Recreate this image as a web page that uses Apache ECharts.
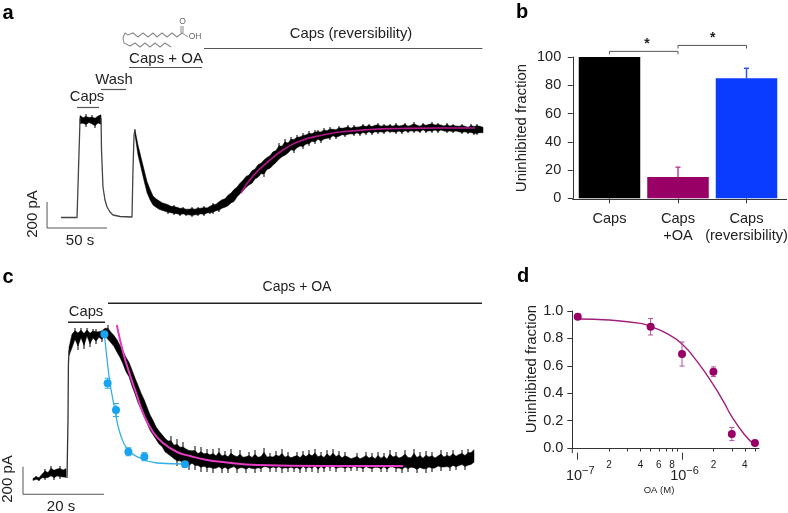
<!DOCTYPE html>
<html><head><meta charset="utf-8">
<style>html,body{margin:0;padding:0;background:#fff}#c{width:788px;height:513px}</style>
<script src="https://cdn.jsdelivr.net/npm/echarts@6/dist/echarts.min.js"></script>
</head><body><div id="c"></div>
<script>
// ---- Panel a: current trace (time in s, current in pA) ----
const aThinT=[0.8,14.2,14.6,15.4,16.3,16.7];
const aThinV=[-4,-4,0,376,656,792];
const aFallT=[34.2,34.6,35.8,37.5,39.2,41.7,44.2,50,60,60.8,61.7,62.5];
const aFallV=[792,536,240,136,80,40,16,4,0,376,656,704];
const aPlateauStart=16.67, aStep=2.5;
const aPlateauHi=[832,808,824,808,816,808,824,840];
const aPlateauLo=[728,736,720,744,728,712,736,720];
const aBandStart=62.5;
const aBandHi=[704,592,496,400,304,240,184,160,144,128,120,112,96,96,88,80,80,72,72,80,72,80,80,88,80,96,112,112,136,152,160,192,208,240,256,288,312,344,352,392,400,440,448,480,496,512,544,552,592,584,624,608,640,640,656,656,672,672,688,680,696,696,696,712,704,720,712,712,728,720,728,736,720,736,728,736,744,736,744,736,744,752,736,744,736,744,736,752,736,744,752,736,744,760,744,736,752,744,752,760,744,752,744,736,752,736,744,736,736,744,736,728,744,736,744,736,728];
const aBandLo=[648,480,376,272,176,120,80,64,48,40,32,24,24,16,16,8,16,8,8,0,8,8,16,8,24,24,24,40,40,56,64,72,96,104,144,168,192,216,240,248,288,296,328,320,360,368,392,416,440,464,472,496,520,512,536,552,544,568,568,592,584,608,592,608,616,616,640,624,632,648,640,648,656,648,664,648,664,656,672,656,672,664,672,664,680,672,672,664,680,664,680,672,680,672,680,672,688,672,680,672,688,672,688,680,672,680,672,680,672,664,672,664,664,656,656,664,664];
const aFitT=[150.8,160.8,175,185.8,200,219.2,233.3,258.3,283.3,316.7,345.8];
const aFitV=[192,328,456,536,608,656,680,700,708,712,712];
// stimulus bars: [tStart, tEnd, level]
const aStimBars=[[14.2,32.5,876],[34.2,55,1020],[57.5,118.3,1196],[120,352,1348]];
const aScaleBars=[[-10.8,-88,-10.8,120],[-10.8,-88,39.2,-88]];

// ---- Panel b ----
const bCategories=['Caps','Caps\n+OA','Caps\n(reversibility)'];
const bValues=[100,15,85];
const bErrors=[0,7,7];
const bColors=['#000000','#990066','#0a3cff'];
const bErrColors=['#000000','#c0409a','#2a55f0'];
const bBrackets=[[0,1,104,102],[1,2,108.2,106]];

// ---- Panel c ----
const cThinT=[9.25,9.5,9.6,9.75];
const cThinV=[16,480,920,1040];
const cPreStart=0.75, cStep=0.75;
const cPreHi=[16,32,24,56,88,72,112,96,104,112,96,112];
const cPreLo=[-8,0,-8,8,0,8,16,0,16,8,8,0];
const cBandStart=9.75;
const cBandHi=[1080,1200,1216,1208,1216,1200,1216,1200,1208,1208,1200,1216,1232,1240,1208,1184,1152,1104,1064,1016,976,920,856,800,736,688,624,560,512,456,424,392,368,344,352,312,328,296,304,280,272,264,272,240,264,240,248,232,248,224,256,224,232,216,248,224,216,240,208,216,224,208,240,208,216,256,208,216,208,232,216,248,208,224,200,216,224,208,232,216,240,224,248,216,224,208,240,216,248,216,232,200,224,208,192,200,216,192,208,224,200,216,192,224,200,216,192,240,208,224,200,216,240,208,200,248,208,224,200,232,208,224,200,216,240,208,224,216,240,216,232,240,224,248,248,272];
const cBandLo=[976,1024,1104,1040,1120,1048,1136,1064,1120,1088,1128,1104,1136,1096,1072,1040,992,952,896,832,792,712,648,576,528,464,416,360,328,296,256,240,192,176,152,136,112,120,96,112,80,104,80,88,64,80,64,72,56,64,72,56,72,56,64,80,56,64,72,56,72,64,56,72,64,72,80,64,80,64,80,56,72,64,80,64,72,56,80,64,72,64,80,56,80,64,80,72,80,64,72,80,64,80,72,88,72,80,64,80,72,64,80,72,64,80,64,72,80,64,72,56,72,64,80,64,56,72,64,56,80,64,72,88,72,80,80,72,88,80,88,96,80,88,96,112];
const cFitT=[21.7,23.25,25,26.7,28.25,30.75,33.25,36.75,40,44.25,48.25,56.75,73.25,93.25];
const cFitV=[1240,1024,840,680,536,384,296,224,192,160,144,120,112,112];
const cBlueT=[18.6,19.4,21.5,24.6,28.6,38.75];
const cBlueV=[1166,774,560,226,186,126];
const cBlueE=[0,40,52,32,32,0];
const cBlueFitT=[18.6,19.2,20,21.25,22.5,24.5,27.5,31.75,38.75];
const cBlueFitV=[1166,984,776,560,376,240,176,136,128];
const cStimBars=[[9.5,18.75,1262],[19.5,113,1414]];
const cScaleBars=[[-1.75,-114,-1.75,106],[-1.75,-114,18.5,-114]];

// ---- Panel d ----
const dConc=[1e-7,5e-7,1e-6,2e-6,3e-6,5e-6];
const dValues=[0.958,0.885,0.686,0.557,0.102,0.036];
const dErrors=[0,0.06,0.088,0.035,0.048,0.015];
const dFitConc=[1e-7,2e-7,4e-7,5e-7,7.1e-7,1e-6,1.4e-6,2e-6,2.5e-6,3e-6,4e-6,5e-6];
const dFitV=[0.942,0.934,0.91,0.887,0.837,0.759,0.63,0.46,0.338,0.229,0.095,0.02];
const dMinorTicks=[2e-7,3e-7,4e-7,5e-7,6e-7,7e-7,8e-7,9e-7,2e-6,3e-6,4e-6,5e-6];
const dMinorLabelled=[2e-7,4e-7,6e-7,8e-7,2e-6,4e-6];
const dMajorTicks=[1e-7,1e-6];

const zip=(a,b)=>a.map((v,i)=>[v,b[i]]);
const FONT='"Liberation Sans",Arial,sans-serif', INK='#222';

// Noisy record: a solid core, with a hairline out to the read extreme wherever that extreme is a local peak.
function band(xi,yi,start,step,hi,lo,coreFrac){
  return {type:'custom',xAxisIndex:xi,yAxisIndex:yi,z:2,clip:false,
    data:hi.map((h,i)=>[start+i*step,h,lo[i]]),
    renderItem(p,api){
      if(p.dataIndex!==0) return null;
      const up=[],down=[],kids=[];
      const st={stroke:'#000',lineWidth:1};
      hi.forEach((h,i)=>{
        const x=start+i*step,m=(h+lo[i])/2,l=lo[i];
        up.push(api.coord([x,m+(h-m)*coreFrac]));
        down.unshift(api.coord([x,m+(l-m)*coreFrac]));
        const mid=api.coord([x,m]);
        if(i>0&&i<hi.length-1&&h>=hi[i-1]&&h>=hi[i+1]){
          const a=api.coord([x,h]);
          kids.push({type:'line',shape:{x1:a[0],y1:a[1],x2:mid[0],y2:mid[1]},style:st});
        }
        if(i>0&&i<hi.length-1&&l<=lo[i-1]&&l<=lo[i+1]){
          const b=api.coord([x,l]);
          kids.push({type:'line',shape:{x1:b[0],y1:b[1],x2:mid[0],y2:mid[1]},style:st});
        }
      });
      kids.push({type:'polygon',shape:{points:up.concat(down)},style:{fill:'#000',stroke:'#000',lineWidth:0.5}});
      return {type:'group',children:kids};
    }};
}
function thin(xi,yi,t,v,color,w,smooth,z){
  return {type:'line',xAxisIndex:xi,yAxisIndex:yi,data:zip(t,v),symbol:'none',smooth:!!smooth,z:z||3,clip:false,
    lineStyle:{color,width:w}};
}
function segs(xi,yi,rows,color,w){
  return {type:'custom',xAxisIndex:xi,yAxisIndex:yi,z:2,clip:false,data:rows,
    renderItem(p,api){
      const a=api.coord([api.value(0),api.value(1)]),b=api.coord([api.value(2),api.value(3)]);
      return {type:'line',shape:{x1:a[0],y1:a[1],x2:b[0],y2:b[1]},style:{stroke:color,lineWidth:w}};
    }};
}
function errBars(xi,yi,xs,ys,es,color,cap,w,upOnly,z){
  return {type:'custom',xAxisIndex:xi,yAxisIndex:yi,z:z||4,clip:false,
    data:xs.map((x,i)=>[x,ys[i],es[i]]).filter(r=>r[2]>0),
    renderItem(p,api){
      const x=api.value(0),y=api.value(1),e=api.value(2);
      const t=api.coord([x,y+e]),b=api.coord([x,upOnly?y:y-e]);
      const st={stroke:typeof color==='function'?color(p.dataIndex):color,lineWidth:w};
      const kids=[{type:'line',shape:{x1:t[0],y1:t[1],x2:b[0],y2:b[1]},style:st},
        {type:'line',shape:{x1:t[0]-cap,y1:t[1],x2:t[0]+cap,y2:t[1]},style:st}];
      if(!upOnly) kids.push({type:'line',shape:{x1:b[0]-cap,y1:b[1],x2:b[0]+cap,y2:b[1]},style:st});
      return {type:'group',children:kids};
    }};
}
function txt(text,x,y,size,opt){
  opt=opt||{};
  return {type:'text',x,y,rotation:opt.rot||0,z:20,
    style:{text,x:0,y:0,align:'center',verticalAlign:'middle',fill:opt.fill||INK,
      font:(opt.bold?'bold ':'')+size+'px '+FONT}};
}
function gline(x1,y1,x2,y2,color,w){
  return {type:'line',z:20,shape:{x1,y1,x2,y2},style:{stroke:color||'#333',lineWidth:w||1}};
}
const GREY='#8c8c8c';
const molecule=[[182,33],[177,37],[172,33],[167,37],[162,33],[157,37],[153,33],[148,37],[143,33],[138,37],[133,33],[128,35],[125,33],[123,38],[124,43],[130,46],[135,43],[140,47],[145,43],[150,47],[155,43],[160,47],[165,43],[171,47]];

const option={
  backgroundColor:'#fff',animation:false,
  textStyle:{fontFamily:FONT},
  grid:[
    {left:36,top:40,width:447,height:202,outerBoundsMode:'none'},
    {left:575.25,top:57,width:205.5,height:141.3,outerBoundsMode:'none'},
    {left:20,top:295,width:463,height:205,outerBoundsMode:'none'},
    {left:572.3,top:311,width:186.7,height:137,outerBoundsMode:'none'}
  ],
  xAxis:[
    {gridIndex:0,type:'value',min:-20,max:352.5,show:false},
    {gridIndex:1,type:'category',data:bCategories,offset:1,
      axisLine:{show:false},axisTick:{show:true,alignWithLabel:true,length:5,lineStyle:{color:'#333'}},
      axisLabel:{color:INK,fontSize:14.6,lineHeight:17,margin:11,interval:0,fontFamily:FONT}},
    {gridIndex:2,type:'value',min:-2.5,max:113.25,show:false},
    {gridIndex:3,type:'log',logBase:10,min:8.87e-8,max:5.47e-6,offset:4.7,splitLine:{show:false},
      axisLine:{lineStyle:{color:'#333'}},
      axisTick:{length:3.5,customValues:dMinorTicks,lineStyle:{color:'#333'}},
      minorTick:{show:false},
      axisLabel:{customValues:dMinorLabelled,color:INK,fontSize:10,margin:8,fontFamily:FONT,
        formatter:v=>String(Math.round(v/Math.pow(10,Math.floor(Math.log10(v)+1e-9))))}},
    {gridIndex:3,type:'log',logBase:10,min:8.87e-8,max:5.47e-6,offset:4.7,splitLine:{show:false},position:'bottom',
      axisLine:{show:false},
      axisTick:{length:7,customValues:dMajorTicks,lineStyle:{color:'#333'}},
      minorTick:{show:false},
      axisLabel:{customValues:dMajorTicks,color:INK,margin:13,fontFamily:FONT,
        formatter:v=>'{b|10}{s|'+(v<5e-7?'\u22127':'\u22126')+'}',
        rich:{b:{fontSize:14.5,color:INK,fontFamily:FONT,padding:[0,0,0,5]},s:{fontSize:11,color:INK,fontFamily:FONT,padding:[0,0,9,0]}}}}
  ],
  yAxis:[
    {gridIndex:0,type:'value',min:-200,max:1416,show:false},
    {gridIndex:1,type:'value',min:0,max:100,interval:20,offset:2.5,splitLine:{show:false},
      axisLine:{show:true,lineStyle:{color:'#333'}},axisTick:{show:true,length:5,lineStyle:{color:'#333'}},
      axisLabel:{color:INK,fontSize:14.5,margin:11.5,fontFamily:FONT}},
    {gridIndex:2,type:'value',min:-160,max:1480,show:false},
    {gridIndex:3,type:'value',min:0,max:1,interval:0.2,splitLine:{show:false},
      axisLine:{show:true,lineStyle:{color:'#333'}},axisTick:{show:true,length:5,lineStyle:{color:'#333'}},
      axisLabel:{color:INK,fontSize:14.5,margin:9,fontFamily:FONT,formatter:v=>v.toFixed(1)}}
  ],
  series:[
    // a
    thin(0,0,aThinT,aThinV,'#444',1.3),
    thin(0,0,aFallT,aFallV,'#444',1.3),
    band(0,0,aPlateauStart,aStep,aPlateauHi,aPlateauLo,0.62),
    band(0,0,aBandStart,aStep,aBandHi,aBandLo,0.7),
    thin(0,0,aFitT,aFitV,'#b0168a',1.7,true,5),
    segs(0,0,aStimBars.map(r=>[r[0],r[2],r[1],r[2]]),'#555',1.2),
    segs(0,0,aScaleBars,'#555',1),
    // b
    {type:'bar',xAxisIndex:1,yAxisIndex:1,barWidth:61.5,z:3,
      data:bValues.map((v,i)=>({value:v,itemStyle:{color:bColors[i]}}))},
    errBars(1,1,[0,1,2],bValues,bErrors,i=>bErrColors[i+1],2.5,1.5,true,2),
    {type:'custom',xAxisIndex:1,yAxisIndex:1,z:4,clip:false,data:bBrackets,
      renderItem(p,api){
        const a=api.coord([api.value(0),api.value(2)]),b=api.coord([api.value(1),api.value(2)]);
        const leg=api.coord([api.value(0),api.value(3)])[1];
        return {type:'polyline',shape:{points:[[a[0],leg],a,b,[b[0],leg]]},style:{stroke:'#555',lineWidth:1,fill:null}};
      }},
    // c
    band(2,2,cPreStart,cStep,cPreHi,cPreLo,0.62),
    thin(2,2,cThinT,cThinV,'#333',1.3),
    band(2,2,cBandStart,cStep,cBandHi,cBandLo,0.62),
    thin(2,2,cFitT,cFitV,'#e63cc4',2,true,5),
    thin(2,2,cBlueFitT,cBlueFitV,'#35aee8',1.3,true,6),
    errBars(2,2,cBlueT,cBlueV,cBlueE,'#35aee8',3,1,false,6),
    {type:'scatter',xAxisIndex:2,yAxisIndex:2,data:zip(cBlueT,cBlueV),symbolSize:8,z:7,clip:false,
      itemStyle:{color:'#18a4f0',opacity:1}},
    segs(2,2,cStimBars.map(r=>[r[0],r[2],r[1],r[2]]),'#222',1.6),
    segs(2,2,cScaleBars,'#555',1),
    // d
    thin(3,3,dFitConc,dFitV,'#a01f7c',1.4,true,4),
    errBars(3,3,dConc,dValues,dErrors,'#b5509a',2.5,1,false,5),
    {type:'scatter',xAxisIndex:3,yAxisIndex:3,data:zip(dConc,dValues),symbolSize:8,z:6,clip:false,
      itemStyle:{color:'#990066',opacity:1}}
  ],
  graphic:{elements:[
    txt('a',8,13,20,{bold:true,fill:'#000'}),
    txt('b',522,12,20,{bold:true,fill:'#000'}),
    txt('c',8,277,20,{bold:true,fill:'#000'}),
    txt('d',523,276,20,{bold:true,fill:'#000'}),
    txt('Caps',87,97,14.8),
    txt('Wash',114,80,14.8),
    txt('Caps + OA',166,59,15),
    txt('Caps (reversibility)',351,34,14.8),
    txt('50 s',80,241,15),
    txt('200 pA',33,214,15,{rot:Math.PI/2}),
    {type:'polyline',z:20,shape:{points:molecule},style:{stroke:GREY,lineWidth:1.1,fill:null}},
    gline(181,33,181,26,GREY,1),gline(183,33,183,26,GREY,1),gline(182,33,188,37,GREY,1),
    txt('O',182.5,22,8.5,{fill:'#666'}),
    txt('OH',195,37,8.5,{fill:'#666'}),
    txt('Uninhibited fraction',522,128,15,{rot:Math.PI/2}),
    txt('*',647,44,14,{bold:true}),
    txt('*',712.7,38,14,{bold:true}),
    gline(572.7,199.5,787,199.5,'#333',1),
    gline(572.7,198.3,572.7,199.8,'#333',1),
    txt('Caps',86,312,14.8),
    txt('Caps + OA',297,287,14),
    txt('20 s',61,507,15),
    txt('200 pA',8,479,15,{rot:Math.PI/2}),
    txt('Uninhibited fraction',531.7,369,15,{rot:Math.PI/2}),
    txt('OA (M)',659,490,9.5),
    gline(572.3,448,572.3,453.2,'#333',1)
  ]}
};
const chart=echarts.init(document.getElementById('c'),null,{renderer:'canvas'});
chart.setOption(option);
</script></body></html>
